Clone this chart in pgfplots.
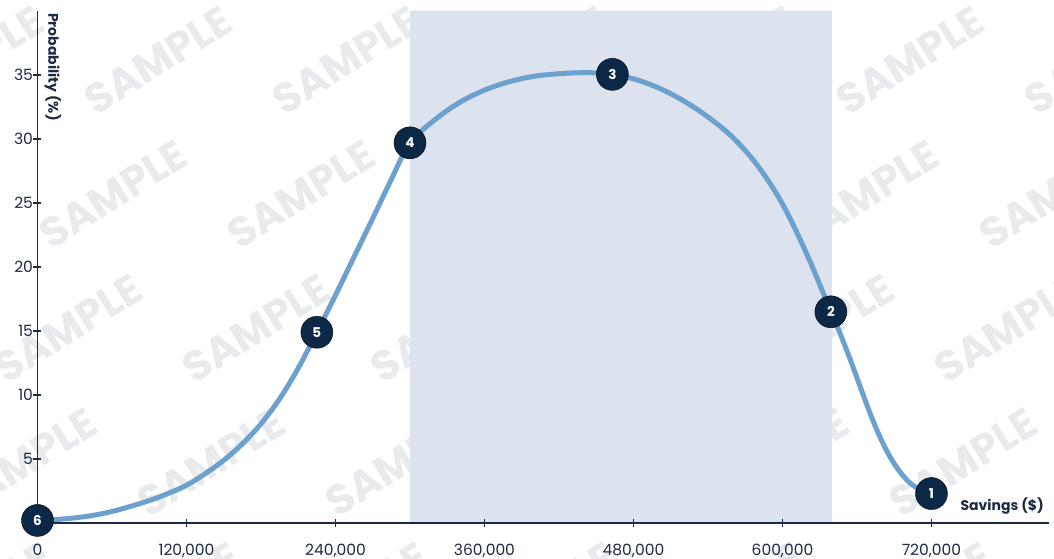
\documentclass[border=0pt]{standalone}
\usepackage{pgfplots}
\pgfplotsset{compat=1.18}
\usepackage{pgfplotstable}
\usepackage{fontspec}
\setmainfont{Poppins}

\definecolor{navy}{HTML}{0C2847}
\definecolor{axisnavy}{HTML}{1B2B47}
\definecolor{textnavy}{HTML}{1C2A44}
\definecolor{curveblue}{HTML}{6CA0CD}
\definecolor{bandfill}{HTML}{DCE3EE}
\definecolor{wmgray}{HTML}{E8EAED}

% probability curve
\pgfplotstableread{
x y
0 0.2
15000 0.27
30000 0.4
45000 0.6
60000 0.9
75000 1.3
90000 1.75
105000 2.3
120000 2.95
135000 3.85
150000 4.9
165000 6.18
180000 7.75
195000 9.7
210000 12.1
225000 14.9
240000 17.8
255000 20.8
270000 23.8
285000 26.85
300000 29.7
320000 31.5
340000 32.86
360000 33.82
380000 34.48
400000 34.9
420000 35.1
440000 35.18
460000 35.1
480000 34.7
500000 34.0
520000 33.0
540000 31.72
560000 30.12
580000 27.92
600000 24.92
620000 20.92
639000 16.5
647000 14.66
655000 12.66
663000 10.54
671000 8.46
679000 6.62
687000 5.1
695000 3.95
703000 3.1
711000 2.6
720000 2.3
}\curvedata

% numbered steps on the curve
\pgfplotstableread{
x y label
0 0.2 6
225000 14.9 5
300000 29.7 4
463000 35.05 3
639000 16.5 2
720000 2.3 1
}\stepdata

\begin{document}
\begin{tikzpicture}
\path[use as bounding box] (-37.5pt,-35pt) rectangle (1016.5pt,523pt);
% background watermark
\begin{scope}
\clip (-37.5pt,-35pt) rectangle (1016.5pt,523pt);
\foreach \r in {-1,0,...,4}{
  \foreach \k in {-1,0,...,6}{
    \pgfmathsetmacro{\wx}{158-45*\r+188*\k-37.5}
    \pgfmathsetmacro{\wy}{463-134*\r}
    \node[rotate=32, text=wmgray, font=\fontsize{42}{42}\selectfont\bfseries]
      at (\wx pt, \wy pt) {SAMPLE};
  }}
\end{scope}

\begin{axis}[
  at={(0pt,0pt)}, anchor=origin,
  scale only axis,
  width=1011.96pt, height=512pt,
  xmin=0, xmax=815000, ymin=0, ymax=40,
  axis x line*=bottom, axis y line*=left,
  axis line style={axisnavy, line width=1.4pt},
  tick style={axisnavy, line width=1.2pt},
  major tick length=8pt, tick align=center,
  axis on top,
  clip=false,
  xtick={0,120000,240000,360000,480000,600000,720000},
  xticklabels={0,{120,000},{240,000},{360,000},{480,000},{600,000},{720,000}},
  ytick={5,10,15,20,25,30,35},
  /pgf/number format/assume math mode=true,
  ticklabel style={font=\fontsize{15.5}{15.5}\selectfont, text=textnavy},
  xticklabel style={yshift=-14pt},
  yticklabel style={xshift=3pt},
  xlabel={Savings (\$)},
  xlabel style={at={(rel axis cs:1,0)}, anchor=east, yshift=17pt, xshift=-2pt,
    font=\fontsize{14}{14}\selectfont\bfseries, text=textnavy},
]
\addplot[draw=none, fill=bandfill] coordinates
  {(300000,0) (300000,40) (640000,40) (640000,0)} \closedcycle;
\addplot[curveblue, line width=5pt, smooth, tension=0.55] table[x=x, y=y] {\curvedata};
\addplot[only marks, mark=*, mark size=16pt,
  mark options={fill=navy, draw=none},
  nodes near coords, point meta=explicit symbolic,
  every node near coord/.append style={anchor=center, text=white,
    font=\fontsize{13.5}{13.5}\selectfont\bfseries}]
  table[x=x, y=y, meta=label] {\stepdata};
\end{axis}
\node[rotate=-90, anchor=west, inner sep=0pt, text=textnavy,
  font=\fontsize{14}{14}\selectfont\bfseries] at (15.5pt,510pt) {Probability (\%)};
\end{tikzpicture}
\end{document}
